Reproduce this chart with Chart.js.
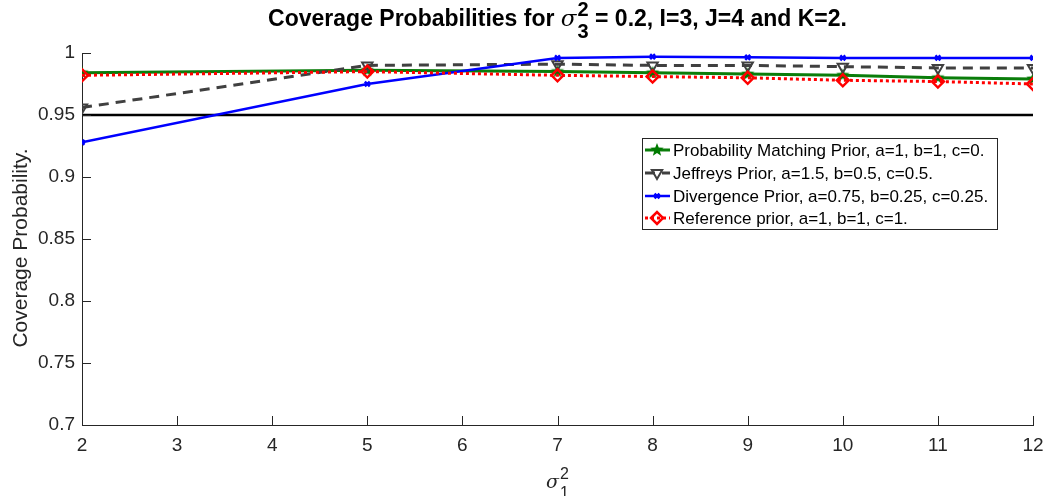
<!DOCTYPE html>
<html>
<head>
<meta charset="utf-8">
<script src="https://cdn.jsdelivr.net/npm/chart.js@4"></script>
<style>
  html, body { margin: 0; padding: 0; background: #fff; }
  #wrap { width: 1048px; height: 496px; }
</style>
</head>
<body>
<div id="wrap"><canvas id="cov" width="1048" height="496"></canvas></div>
<script>
// sigma_1^2 values
const sigma1 = [2, 5, 7, 8, 9, 10, 11, 12];

const probMatching = [0.984, 0.986, 0.985, 0.984, 0.983, 0.982, 0.980, 0.979];
const jeffreys     = [0.956, 0.990, 0.991, 0.990, 0.990, 0.989, 0.988, 0.988];
const divergence   = [0.928, 0.975, 0.996, 0.997, 0.9965, 0.996, 0.996, 0.996];
const reference    = [0.982, 0.985, 0.982, 0.981, 0.980, 0.978, 0.977, 0.975];

const nominalX = [2, 12];
const nominalY = [0.95, 0.95];

const xTicks = [2, 3, 4, 5, 6, 7, 8, 9, 10, 11, 12];
const yTicks = [0.7, 0.75, 0.8, 0.85, 0.9, 0.95, 1];

const labels = [
  'Probability Matching Prior, a=1, b=1, c=0.',
  'Jeffreys Prior, a=1.5, b=0.5, c=0.5.',
  'Divergence Prior, a=0.75, b=0.25, c=0.25.',
  'Reference prior, a=1, b=1, c=1.'
];

const FONT = '"Liberation Sans", Arial, sans-serif';
const AXIS = '#262626';

function pts(xs, ys) {
  return xs.map((x, i) => ({ x: x, y: ys[i] }));
}

// filled five point star for the green series
function makeStar(r, color) {
  const c = document.createElement('canvas');
  c.width = c.height = r * 2 + 2;
  const g = c.getContext('2d');
  g.fillStyle = color;
  g.beginPath();
  for (let i = 0; i < 10; i++) {
    const rad = i % 2 === 0 ? r : r * 0.42;
    const a = -Math.PI / 2 + i * Math.PI / 5;
    const px = r + 1 + rad * Math.cos(a), py = r + 1 + rad * Math.sin(a);
    if (i === 0) g.moveTo(px, py); else g.lineTo(px, py);
  }
  g.closePath();
  g.fill();
  return c;
}
const star = makeStar(7, '#007a00');

const data = {
  datasets: [
    {
      label: labels[0],
      data: pts(sigma1, probMatching),
      borderColor: '#0a7d0a',
      backgroundColor: '#007a00',
      borderWidth: 3,
      pointStyle: star,
      pointRadius: 7,
      order: 3,
    },
    {
      label: labels[1],
      data: pts(sigma1, jeffreys),
      borderColor: '#404040',
      backgroundColor: 'rgba(0,0,0,0)',
      borderWidth: 3,
      borderDash: [10, 7],
      pointStyle: 'triangle',
      pointRotation: 180,
      pointRadius: 6,
      pointBorderWidth: 2,
      order: 2,
    },
    {
      label: labels[2],
      data: pts(sigma1, divergence),
      borderColor: '#0000ff',
      backgroundColor: '#0000ff',
      borderWidth: 2.5,
      pointStyle: 'crossRot',
      pointRadius: 3.5,
      pointBorderWidth: 2.5,
      order: 1,
    },
    {
      label: labels[3],
      data: pts(sigma1, reference),
      borderColor: '#ff0000',
      backgroundColor: 'rgba(0,0,0,0)',
      borderWidth: 3,
      borderDash: [3, 3],
      pointStyle: 'rectRot',
      pointRadius: 6,
      pointBorderWidth: 2.5,
      order: 0,
    },
    {
      label: 'nominal',
      data: pts(nominalX, nominalY),
      borderColor: '#000',
      borderWidth: 2.5,
      pointRadius: 0,
      order: 4,
    },
  ],
};

// sigma with stacked super/subscript, returns total width
function sigmaText(ctx, x, y, size, sub, sup, bold, measureOnly) {
  ctx.font = 'italic ' + size + 'px "DejaVu Serif", serif';
  ctx.textAlign = 'left';
  ctx.textBaseline = 'alphabetic';
  const w = ctx.measureText('\u03c3').width;
  if (!measureOnly) ctx.fillText('\u03c3', x, y);
  ctx.font = (bold ? 'bold ' : '') + Math.round(size * 0.85) + 'px ' + FONT;
  const ws = Math.max(ctx.measureText(sup).width, ctx.measureText(sub).width);
  if (!measureOnly) {
    ctx.fillText(sup, x + w + 1, y - size * 0.45);
    ctx.fillText(sub, x + w + 1, y + size * 0.5);
  }
  return w + 1 + ws;
}

const decor = {
  id: 'decor',
  afterDraw(chart) {
    const ctx = chart.ctx;
    const xs = chart.scales.x, ys = chart.scales.y;
    const a = chart.chartArea;
    ctx.save();

    // inward ticks
    ctx.strokeStyle = AXIS;
    ctx.lineWidth = 1;
    ctx.beginPath();
    xTicks.forEach(v => {
      const px = Math.round(xs.getPixelForValue(v)) + 0.5;
      ctx.moveTo(px, a.bottom);
      ctx.lineTo(px, a.bottom - 9);
    });
    yTicks.forEach(v => {
      const py = Math.round(ys.getPixelForValue(v)) + 0.5;
      ctx.moveTo(a.left, py);
      ctx.lineTo(a.left + 9, py);
    });
    ctx.stroke();

    // title
    ctx.fillStyle = '#000';
    const TS = 23;
    const t1 = 'Coverage Probabilities for ';
    const t2 = ' = 0.2, I=3, J=4 and K=2.';
    ctx.font = 'bold ' + TS + 'px ' + FONT;
    const w1 = ctx.measureText(t1).width;
    const w2 = ctx.measureText(t2).width;
    const ws = sigmaText(ctx, 0, 0, TS, '3', '2', true, true);
    const total = w1 + ws + w2;
    let tx = (a.left + a.right) / 2 - total / 2;
    ctx.font = 'bold ' + TS + 'px ' + FONT;
    ctx.textAlign = 'left';
    ctx.textBaseline = 'alphabetic';
    ctx.fillText(t1, tx, 26);
    tx += w1;
    sigmaText(ctx, tx, 26, TS, '3', '2', true, false);
    tx += ws;
    ctx.font = 'bold ' + TS + 'px ' + FONT;
    ctx.fillText(t2, tx, 26);

    // x label
    ctx.fillStyle = AXIS;
    sigmaText(ctx, 546, 488, 19, '1', '2', false, false);

    // y label
    ctx.save();
    ctx.translate(21, 248);
    ctx.rotate(-Math.PI / 2);
    ctx.font = '21px ' + FONT;
    ctx.textAlign = 'center';
    ctx.textBaseline = 'middle';
    ctx.fillText('Coverage Probability.', 0, 0);
    ctx.restore();

    // legend box
    const lx = 642, ly = 138, lw = 355, lh = 91;
    ctx.fillStyle = '#fff';
    ctx.fillRect(lx, ly, lw, lh);
    ctx.strokeStyle = '#262626';
    ctx.lineWidth = 1;
    ctx.strokeRect(lx + 0.5, ly + 0.5, lw, lh);
    const rows = [150, 173, 196, 218];
    chart.data.datasets.slice(0, 4).forEach((ds, i) => {
      const y = rows[i];
      ctx.save();
      ctx.strokeStyle = ds.borderColor;
      ctx.lineWidth = ds.borderWidth;
      ctx.setLineDash(ds.borderDash || []);
      ctx.beginPath();
      ctx.moveTo(lx + 3, y);
      ctx.lineTo(lx + 28, y);
      ctx.stroke();
      ctx.setLineDash([]);
      ctx.strokeStyle = ds.borderColor;
      ctx.fillStyle = ds.backgroundColor;
      ctx.lineWidth = ds.pointBorderWidth || 1;
      Chart.helpers.drawPoint(ctx, {
        pointStyle: ds.pointStyle,
        rotation: ds.pointRotation || 0,
        radius: ds.pointRadius,
        borderWidth: ds.pointBorderWidth || 1,
      }, lx + 15, y);
      ctx.restore();
      ctx.fillStyle = '#000';
      ctx.font = '17px ' + FONT;
      ctx.textAlign = 'left';
      ctx.textBaseline = 'middle';
      ctx.fillText(labels[i], lx + 31, y + 1);
    });

    ctx.restore();
  },
};

const config = {
  type: 'line',
  data: data,
  options: {
    responsive: false,
    animation: false,
    layout: { padding: { left: 0, right: 15, top: 53, bottom: 0 } },
    plugins: {
      legend: { display: false },
      tooltip: { enabled: false },
    },
    scales: {
      x: {
        type: 'linear',
        min: 2,
        max: 12,
        grid: { display: false, drawTicks: false },
        border: { display: true, color: AXIS, width: 1 },
        ticks: {
          stepSize: 1,
          padding: 9,
          color: AXIS,
          font: { family: FONT, size: 19 },
          maxRotation: 0,
        },
        afterFit(s) {
          s.height = 71;
          s.paddingLeft = 0;
          s.paddingRight = 0;
        },
      },
      y: {
        min: 0.7,
        max: 1,
        grid: { display: false, drawTicks: false },
        border: { display: true, color: AXIS, width: 1 },
        ticks: {
          stepSize: 0.05,
          padding: 7,
          color: AXIS,
          font: { family: FONT, size: 19 },
          callback: v => String(parseFloat(v.toFixed(2))),
        },
        afterFit(s) {
          s.width = 82;
          s.paddingTop = 0;
          s.paddingBottom = 0;
        },
      },
    },
  },
  plugins: [decor],
};

const covChart = new Chart(document.getElementById('cov'), config);
</script>
</body>
</html>
